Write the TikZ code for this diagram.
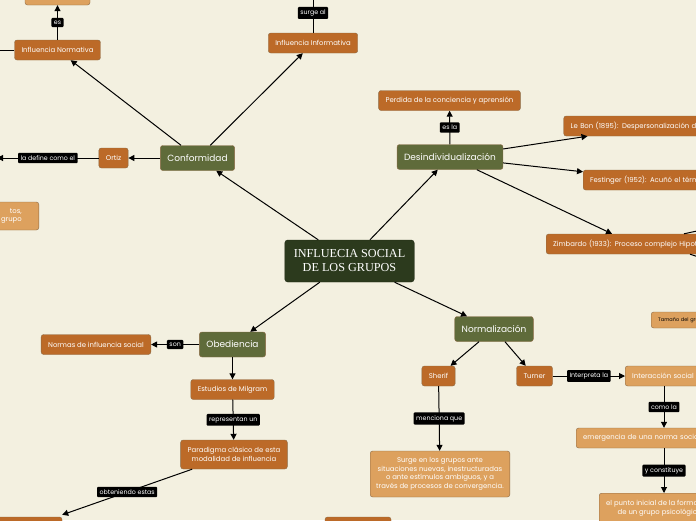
\documentclass[tikz,border=0pt]{standalone}
\usepackage{fontspec}
\setmainfont{Poppins}
\newfontfamily\serifmap{Liberation Serif}
\definecolor{paper}{HTML}{F3F0E0}
\definecolor{forest}{HTML}{2C3A1D}
\definecolor{olive}{HTML}{5F6B3A}
\definecolor{rust}{HTML}{BC6A28}
\definecolor{sand}{HTML}{DDA15E}
\definecolor{edgebrown}{HTML}{8C6A45}
\usetikzlibrary{arrows.meta,calc}

\begin{document}
\begin{tikzpicture}[x=1pt,y=-1pt,
  every node/.style={font=\fontsize{6.9}{8.6}\selectfont},
  core/.style={fill=forest,draw=forest!70!black,rounded corners=3pt,text=white,align=center,inner xsep=9pt,minimum height=42pt,font=\serifmap\fontsize{12.2}{14}\selectfont},
  topic/.style={fill=olive,draw=edgebrown,rounded corners=2.5pt,text=white,minimum height=25pt,inner xsep=7pt,font=\fontsize{9}{11}\selectfont},
  leaf/.style={fill=rust,draw=edgebrown,rounded corners=2.5pt,text=white,minimum height=20pt,inner xsep=7pt},
  soft/.style={fill=sand,draw=edgebrown,rounded corners=2.5pt,text=white,minimum height=20pt,inner xsep=7pt},
  cut/.style={anchor=west,text width=170pt,align=left},
  tag/.style={fill=black,rounded corners=1pt,text=white,inner xsep=2.5pt,inner ysep=2.8pt,font=\fontsize{6.3}{7}\selectfont},
  link/.style={-{Triangle[length=6pt,width=6pt]},line width=1pt,black},
  wire/.style={line width=1pt,black}
]
  \fill[paper] (0,0) rectangle (696,520);
  \path[use as bounding box] (0,0) rectangle (696,520);
  \clip (0,0) rectangle (696,520);

  % main topics
  \node[core] (core) at (349.5,261) {INFLUECIA SOCIAL\\DE LOS GRUPOS};
  \node[topic] (conf) at (197.5,158) {Conformidad};
  \node[topic] (desind) at (450,157) {Desindividualización};
  \node[topic] (obed) at (232.5,344.5) {Obediencia};
  \node[topic] (norm) at (494,329) {Normalización};

  % conformidad
  \node[leaf] (normativa) at (57.5,50) {Influencia Normativa};
  \node[soft,minimum width=65pt] (normtop) at (57.5,-5) {};
  \node[leaf] (informativa) at (313,43) {Influencia Informativa};
  \node[leaf] (ortiz) at (113.5,158) {Ortiz};
  \node[soft,anchor=east,align=right,minimum height=28pt,inner xsep=17pt] (leftbox) at (39,216) {tos,\\grupo};
  \coordinate (infotop) at (313,-7);
  \coordinate (ortizend) at (-3,158);
  \coordinate (normleft) at (-30,50);

  % desindividualizacion
  \node[leaf] (perdida) at (449.5,100.5) {Perdida de la conciencia y aprensión};
  \node[leaf,cut] (lebon) at (563.5,126) {Le Bon (1895): Despersonalización de};
  \node[leaf,cut] (fest) at (583,180) {Festinger (1952): Acuñó el término};
  \node[leaf,cut] (zim) at (546,244) {Zimbardo (1933): Proceso complejo Hipotético};
  \coordinate (zimoffa) at (720,226);
  \coordinate (zimoffb) at (720,264);

  % obediencia
  \node[leaf] (normas) at (96,344.5) {Normas de influencia social};
  \node[leaf] (milgram) at (232.5,389.5) {Estudios de Milgram};
  \node[leaf,align=center,minimum height=29pt] (paradigma) at (234,454.5) {Paradigma clásico de esta\\modalidad de influencia};
  \node[leaf,minimum width=80pt] (botleft) at (22,527) {};

  % normalizacion
  \node[leaf] (sherif) at (438.5,376) {Sherif};
  \node[leaf] (turner) at (534.5,376) {Turner};
  \node[soft,align=center,minimum height=46pt,inner xsep=6pt] (surge) at (440,474) {Surge en los grupos ante\\situaciones nuevas, inestructuradas\\o ante estímulos ambiguos, y a\\través de procesos de convergencia.};
  \node[leaf,minimum width=66pt] (botmid) at (358,527) {};
  \node[soft,cut,text=black,minimum height=16pt,font=\fontsize{5}{6}\selectfont] (tamano) at (651,320) {Tamaño del grupo};
  \node[soft,cut] (inter) at (625,376) {Interacción social};
  \node[soft,cut] (emerg) at (576,438) {emergencia de una norma social};
  \node[soft,anchor=north west,align=center,minimum height=30pt] (punto) at (599,493) {el punto inicial de la formación\\de un grupo psicológico};

  % connectors
  \draw[link] (core) -- (conf);
  \draw[link] (core) -- (desind);
  \draw[link] (core) -- (obed);
  \draw[link] (core) -- (norm);

  \draw[link] (conf) -- (normativa);
  \draw[link] (conf) -- (informativa);
  \draw[link] (conf) -- (ortiz);
  \draw[link] (normativa) -- node[tag] {es} (normtop);
  \draw[wire] (normativa) -- (normleft);
  \draw[link] (informativa) -- node[tag] {surge al} (infotop);
  \draw[link] (ortiz) -- node[tag] {la define como el} (ortizend);

  \draw[link] (desind) -- node[tag] {es la} (perdida);
  \draw[link] (desind) -- ($(lebon.south west)+(24,0)$);
  \draw[link] (desind) -- ($(fest.north west)+(0,2)$);
  \draw[link] (desind) -- ($(zim.north west)+(66,0)$);
  \draw[wire] ($(zim.north west)+(138,0)$) -- (zimoffa);
  \draw[wire] ($(zim.south west)+(144,0)$) -- (zimoffb);

  \draw[link] (obed) -- node[tag] {son} (normas);
  \draw[link] (obed) -- (milgram);
  \draw[link] (milgram) -- node[tag] {representan un} (paradigma);
  \draw[link] (paradigma) -- node[tag] {obteniendo estas} ($(botleft.north east)+(0,-2)$);

  \draw[link] (norm) -- (sherif);
  \draw[link] (norm) -- (turner);
  \draw[link] (sherif) -- node[tag] {menciona que} (surge);
  \draw[link] (turner) -- node[tag] {Interpreta la} (inter.west);
  \draw[link] (inter.south -| 664,0) -- node[tag] {como la} (emerg.north -| 664,0);
  \draw[link] (emerg.south -| 664,0) -- node[tag] {y constituye} (punto.north -| 664,0);
\end{tikzpicture}
\end{document}
